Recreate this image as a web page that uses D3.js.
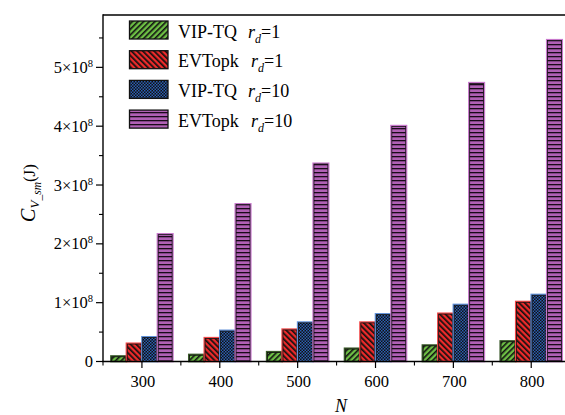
<!DOCTYPE html>
<html><head><meta charset="utf-8">
<script src="https://cdn.jsdelivr.net/npm/d3@7"></script>
<style>body{margin:0;background:#fff}svg{display:block}text{font-family:"Liberation Serif","Times New Roman",serif;fill:#000}</style>
</head><body><svg id="c" width="565" height="415"></svg>
<script>
const categories = [300, 400, 500, 600, 700, 800];
const seriesNames = ["VIP-TQ", "EVTopk", "VIP-TQ", "EVTopk"];
const seriesRd = ["1", "1", "10", "10"];
const vipRd1 = [0.094e8, 0.12e8, 0.167e8, 0.225e8, 0.28e8, 0.35e8];
const evtRd1 = [0.31e8, 0.405e8, 0.55e8, 0.67e8, 0.82e8, 1.02e8];
const vipRd10 = [0.42e8, 0.53e8, 0.67e8, 0.81e8, 0.97e8, 1.14e8];
const evtRd10 = [2.17e8, 2.68e8, 3.37e8, 4.01e8, 4.74e8, 5.47e8];
const yTicks = [0, 1e8, 2e8, 3e8, 4e8, 5e8];
const yMinor = [0.5e8, 1.5e8, 2.5e8, 3.5e8, 4.5e8, 5.5e8];
const xMinor = [250, 350, 450, 550, 650, 750];
const series = [vipRd1, evtRd1, vipRd10, evtRd10];

const svg = d3.select("#c");
const x = d3.scaleLinear().domain([250, 850]).range([103, 103 + 600 * 0.7786]);
const y = d3.scaleLinear().domain([0, 5.89e8]).range([361.5, 15]);
const barW = 15.5;
const sub = d3.scaleBand().domain(d3.range(4)).range([-2 * barW, 2 * barW]);

const defs = svg.append("defs");
function stripes(id, bg, angle, w, lw) {
  const p = defs.append("pattern").attr("id", id).attr("patternUnits", "userSpaceOnUse")
    .attr("width", w).attr("height", w).attr("patternTransform", `rotate(${angle})`);
  p.append("rect").attr("width", w).attr("height", w).attr("fill", bg);
  p.append("rect").attr("width", lw).attr("height", w).attr("fill", "#111");
}
stripes("pGreen", "#6dbf44", 45, 4, 1.6);
stripes("pRed", "#ee2a2a", -45, 4, 1.7);
{
  const p = defs.append("pattern").attr("id", "pBlue").attr("patternUnits", "userSpaceOnUse")
    .attr("width", 3).attr("height", 3);
  p.append("rect").attr("width", 3).attr("height", 3).attr("fill", "#111");
  p.append("rect").attr("x", 0).attr("y", 0).attr("width", 1.5).attr("height", 1.5).attr("fill", "#2a5fb5");
  p.append("rect").attr("x", 1.5).attr("y", 1.5).attr("width", 1.5).attr("height", 1.5).attr("fill", "#2a5fb5");
}
{
  const p = defs.append("pattern").attr("id", "pPurple").attr("patternUnits", "userSpaceOnUse")
    .attr("width", 4).attr("height", 4);
  p.append("rect").attr("width", 4).attr("height", 4).attr("fill", "#b060b5");
  p.append("rect").attr("y", 0).attr("width", 4).attr("height", 1.3).attr("fill", "#1a0a1a");
}
const fills = ["url(#pGreen)", "url(#pRed)", "url(#pBlue)", "url(#pPurple)"];
const outer = ["#3a5a2a", "#f04848", "#6090d8", "#c878cc"];

// bars
series.forEach((vals, si) => {
  const g = svg.append("g");
  categories.forEach((c, i) => {
    const x0 = x(c) + sub(si), y0 = y(vals[i]), h = y(0) - y(vals[i]);
    g.append("rect").attr("x", x0).attr("y", y0).attr("width", barW).attr("height", h)
      .attr("fill", fills[si]).attr("stroke", outer[si]).attr("stroke-width", 1.6);
    g.append("rect").attr("x", x0 + 0.8).attr("y", y0 + 0.8).attr("width", barW - 1.6).attr("height", Math.max(0, h - 0.8))
      .attr("fill", "none").attr("stroke", "#111").attr("stroke-width", 0.8);
  });
});

// axes
const ax = svg.append("g").attr("stroke", "#000");
ax.append("line").attr("x1", 103).attr("x2", 565).attr("y1", 15).attr("y2", 15).attr("stroke-width", 1.6);
ax.append("line").attr("x1", 103).attr("x2", 103).attr("y1", 14.2).attr("y2", 362).attr("stroke-width", 1.4);
ax.append("line").attr("x1", 102.3).attr("x2", 565).attr("y1", y(0)).attr("y2", y(0)).attr("stroke-width", 1.4);
yTicks.forEach(v => ax.append("line").attr("x1", 96).attr("x2", 103).attr("y1", y(v)).attr("y2", y(v)).attr("stroke-width", 1.2));
yMinor.forEach(v => ax.append("line").attr("x1", 99).attr("x2", 103).attr("y1", y(v)).attr("y2", y(v)).attr("stroke-width", 1.1));
categories.forEach(v => ax.append("line").attr("x1", x(v)).attr("x2", x(v)).attr("y1", y(0)).attr("y2", y(0) + 6.5).attr("stroke-width", 1.2));
xMinor.forEach(v => ax.append("line").attr("x1", x(v)).attr("x2", x(v)).attr("y1", y(0)).attr("y2", y(0) + 4).attr("stroke-width", 1.1));

// y tick labels
yTicks.forEach(v => {
  const t = svg.append("text").attr("x", 93).attr("y", y(v) + 5.5).attr("text-anchor", "end").attr("font-size", 16.5);
  if (v === 0) { t.text("0"); return; }
  t.append("tspan").text(`${v / 1e8}×10`);
  t.append("tspan").attr("font-size", 10.5).attr("dy", -6).text("8");
});
// x tick labels
categories.forEach(c => svg.append("text").attr("x", x(c) + 1).attr("y", 387).attr("text-anchor", "middle")
  .attr("font-size", 16.5).text(c));
svg.append("text").attr("x", 341).attr("y", 412).attr("text-anchor", "middle").attr("font-size", 18)
  .attr("font-style", "italic").text("N");

// y label
{
  const t = svg.append("text").attr("transform", "translate(35,193) rotate(-90)").attr("text-anchor", "middle").attr("font-size", 17);
  t.append("tspan").attr("font-style", "italic").attr("font-size", 20).text("C");
  t.append("tspan").attr("font-style", "italic").attr("font-size", 13).attr("dy", 4).text("V");
  t.append("tspan").attr("font-style", "italic").attr("font-size", 11.5).attr("dy", 2).text("_sm");
  t.append("tspan").attr("dy", -6).text("(J)");
}

// legend
series.forEach((s, si) => {
  const top = 21 + si * 29.7;
  svg.append("rect").attr("x", 129.5).attr("y", top).attr("width", 38.5).attr("height", 18)
    .attr("fill", fills[si]).attr("stroke", "#111").attr("stroke-width", 1.3);
  const t = svg.append("text").attr("x", 178).attr("y", top + 16.5).attr("font-size", 18);
  t.append("tspan").text(seriesNames[si]);
  t.append("tspan").attr("x", si % 2 === 0 ? 248 : 251).attr("font-style", "italic").text("r");
  t.append("tspan").attr("font-style", "italic").attr("font-size", 12).attr("dy", 5).text("d");
  t.append("tspan").attr("dy", -5).text("=" + seriesRd[si]);
});
</script></body></html>
